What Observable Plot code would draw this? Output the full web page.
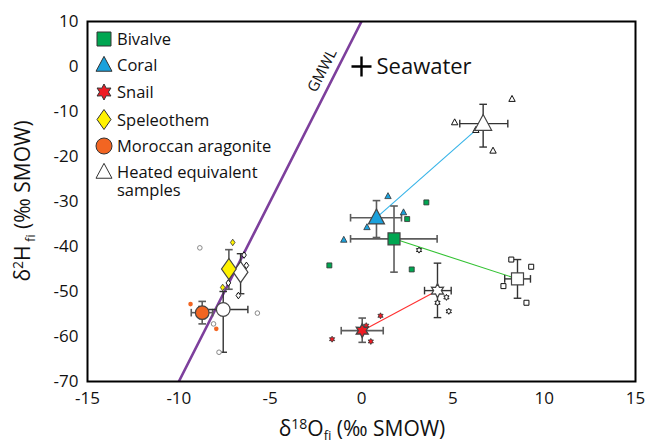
<!DOCTYPE html>
<html><head><meta charset="utf-8">
<script src="https://cdn.jsdelivr.net/npm/d3@7"></script>
<script src="https://cdn.jsdelivr.net/npm/@observablehq/plot@0.6"></script>
<style>body{margin:0;background:#fff;font-family:"Open Sans",sans-serif}</style>
</head><body><div id="chart"></div>
<script>
// ---------- data ----------
const groups = ["Bivalve", "Coral", "Snail", "Speleothem", "Moroccan aragonite"];
const colors = ["#00a651", "#1ba1dc", "#ee1c24", "#fff200", "#f26522"];
const lineColors = ["#33c233", "#35b3e8", "#ff3030", null, null];

// original sample means with error-bar ends
const meanX   = [1.78, 0.82, 0.04, -7.26, -8.72];
const meanY   = [-38.3, -33.6, -58.7, -45.0, -54.7];
const meanXLo = [-0.6, -0.6, -1.11, null, -9.32];
const meanXHi = [4.14, 2.19, 1.19, null, -8.15];
const meanYLo = [-45.7, -38.0, -61.3, -49.5, -57.2];
const meanYHi = [-31.0, -29.8, -55.9, -40.7, -52.2];

// heated equivalent means
const heatX   = [8.54, 6.66, 4.16, -6.62, -7.57];
const heatY   = [-47.2, -12.7, -49.8, -45.7, -54.0];
const heatXLo = [7.84, 5.38, 3.45, null, -8.9];
const heatXHi = [9.25, 8.01, 4.91, null, -6.22];
const heatYLo = [-51.5, -17.9, -55.8, -50.5, -63.5];
const heatYHi = [-42.9, -8.4, -43.7, -41.6, -50.0];

// individual samples
const sampleGroup = [0,0,0,0, 1,1,1,1, 2,2,2,2, 3,3, 4,4];
const sampleX = [3.55, 2.5, -1.76, 2.75,  1.45, 2.3, 0.3, -0.97,  1.04, -1.61, 0.51, 0.26,  -7.05, -7.6,  -9.36, -7.95];
const sampleY = [-30.2, -33.9, -44.2, -45.1,  -28.8, -32.4, -35.7, -38.5,  -55.4, -60.6, -61.1, -57.6,  -39.1, -49.1,  -52.8, -58.3];

// individual heated samples
const heatSampleGroup = [0,0,0,0, 1,1,1,1, 2,2,2,2, 3,3,3,3, 4,4,4,4];
const heatSampleX = [8.2, 9.29, 7.77, 9.03,  8.24, 5.1, 6.26, 7.2,  3.15, 4.65, 4.16, 4.78,  -6.43, -6.3, -7.29, -6.74,  -8.85, -5.7, -8.1, -7.8];
const heatSampleY = [-42.9, -44.5, -48.8, -52.5,  -7.2, -12.4, -14.1, -18.7,  -40.8, -51.3, -52.5, -54.4,  -41.9, -44.2, -48.1, -50.9,  -40.3, -54.8, -57.2, -63.5];

const gmwlX = [-10, 0];
const gmwlY = [-70, 10];
const seawaterX = [0], seawaterY = [0], seawaterLabel = ["Seawater"];
const xTicks = [-15, -10, -5, 0, 5, 10, 15];
const yTicks = [-70, -60, -50, -40, -30, -20, -10, 0, 10];

// ---------- symbols ----------
const sym = fn => ({draw(ctx, size) { const r = Math.sqrt(size / Math.PI); fn(ctx, r); }});
const SQUARE = sym((c, r) => { c.rect(-r, -r, 2 * r, 2 * r); });
const TRIANGLE = sym((c, r) => { c.moveTo(0, -r * 1.08); c.lineTo(r, r * 0.78); c.lineTo(-r, r * 0.78); c.closePath(); });
const STAR6 = sym((c, r) => {
  for (let i = 0; i < 12; i++) {
    const a = -Math.PI / 2 + i * Math.PI / 6, rr = i % 2 ? r * 0.55 : r;
    const px = rr * Math.cos(a), py = rr * Math.sin(a);
    i ? c.lineTo(px, py) : c.moveTo(px, py);
  }
  c.closePath();
});
const DIAMOND = sym((c, r) => { c.moveTo(0, -r); c.lineTo(r * 0.7, 0); c.lineTo(0, r); c.lineTo(-r * 0.7, 0); c.closePath(); });
const CIRCLE = sym((c, r) => { c.moveTo(r, 0); c.arc(0, 0, r, 0, 2 * Math.PI); });
const HCAP = sym((c, r) => { c.moveTo(-r, 0); c.lineTo(r, 0); });
const VCAP = sym((c, r) => { c.moveTo(0, -r); c.lineTo(0, r); });
const symbols = [SQUARE, TRIANGLE, STAR6, DIAMOND, CIRCLE];
const bigR = [6, 8, 7, 10.5, 6.8];
const heatBigR = [6, 8.5, 7, 10.5, 6.8];
const smallR = [2.5, 3.2, 3, 3.3, 2.3];

// ---------- marks ----------
const idx = groups.map((_, i) => i);
const marks = [
  Plot.line(gmwlX.map((x, i) => ({x, y: gmwlY[i]})), {x: "x", y: "y", stroke: "#7d3f9c", strokeWidth: 2.6, clip: true}),
  Plot.text([0], {x: () => -2.15, y: () => -0.9, text: () => "GMWL", rotate: -63, fontSize: 15, fill: "#111"}),
  Plot.link(idx.filter(i => lineColors[i]), {x1: i => meanX[i], y1: i => meanY[i], x2: i => heatX[i], y2: i => heatY[i], stroke: i => lineColors[i], strokeWidth: 1.1})
];

function errorBars(X, Y, XLo, XHi, YLo, YHi, color, w) {
  const hi = idx.filter(i => XLo[i] != null);
  const capH = [], capV = [];
  hi.forEach(i => { capV.push({x: XLo[i], y: Y[i]}, {x: XHi[i], y: Y[i]}); });
  idx.forEach(i => { capH.push({x: X[i], y: YLo[i]}, {x: X[i], y: YHi[i]}); });
  return [
    Plot.link(hi, {x1: i => XLo[i], x2: i => XHi[i], y1: i => Y[i], y2: i => Y[i], stroke: color, strokeWidth: w}),
    Plot.link(idx, {x1: i => X[i], x2: i => X[i], y1: i => YLo[i], y2: i => YHi[i], stroke: color, strokeWidth: w}),
    Plot.dot(capV, {x: "x", y: "y", symbol: VCAP, r: 3.8, stroke: color, strokeWidth: w, fill: "none"}),
    Plot.dot(capH, {x: "x", y: "y", symbol: HCAP, r: 3.8, stroke: color, strokeWidth: w, fill: "none"})
  ];
}
marks.push(...errorBars(meanX, meanY, meanXLo, meanXHi, meanYLo, meanYHi, "#5c5c5c", 1.6));
marks.push(...errorBars(heatX, heatY, heatXLo, heatXHi, heatYLo, heatYHi, "#333", 1.4));

// small samples
idx.forEach(g => {
  const s = sampleX.map((x, i) => ({x, y: sampleY[i], g: sampleGroup[i]})).filter(d => d.g === g);
  const hs = heatSampleX.map((x, i) => ({x, y: heatSampleY[i], g: heatSampleGroup[i]})).filter(d => d.g === g);
  marks.push(Plot.dot(hs, {x: "x", y: "y", symbol: symbols[g], r: smallR[g], fill: "#fff", stroke: g === 4 ? "#888" : "#111", strokeWidth: 1}));
  marks.push(Plot.dot(s, {x: "x", y: "y", symbol: symbols[g], r: smallR[g], fill: colors[g], stroke: g === 4 ? "none" : "#333", strokeWidth: 0.8}));
});
// big means
idx.forEach(g => {
  marks.push(Plot.dot([g], {x: i => heatX[i], y: i => heatY[i], symbol: symbols[g], r: heatBigR[g], fill: "#fff", stroke: "#444", strokeWidth: 1.2}));
  marks.push(Plot.dot([g], {x: i => meanX[i], y: i => meanY[i], symbol: symbols[g], r: bigR[g], fill: colors[g], stroke: "#444", strokeWidth: 1.2}));
});
// seawater
marks.push(Plot.dot(seawaterX.map((x, i) => ({x, y: seawaterY[i]})), {x: "x", y: "y", symbol: "plus", r: 6.5, stroke: "#000", strokeWidth: 2.4}));
marks.push(Plot.text(seawaterLabel.map((t, i) => ({t, x: seawaterX[i], y: seawaterY[i]})), {x: "x", y: "y", text: "t", dx: 15, textAnchor: "start", fontSize: 22, fill: "#111"}));

marks.push(Plot.frame({stroke: "#000", strokeWidth: 2}));
marks.push(Plot.axisX({ticks: xTicks, tickSize: 0, tickPadding: 10, tickFormat: d => String(d), label: null, fontSize: 17}));
marks.push(Plot.axisY({ticks: yTicks, tickSize: 0, tickPadding: 9, tickFormat: d => String(d), label: null, fontSize: 17}));

const chart = Plot.plot({
  width: 651, height: 444,
  marginLeft: 87, marginRight: 16, marginTop: 21, marginBottom: 63,
  x: {domain: [-15, 15]},
  y: {domain: [-70, 10]},
  style: {fontFamily: "Open Sans, sans-serif", color: "#111", background: "#fff"},
  marks
});
document.getElementById("chart").appendChild(chart);

// ---------- axis titles & legend ----------
const svg = d3.select(chart);
const xt = svg.append("text").attr("x", 362).attr("y", 436).attr("text-anchor", "middle")
  .attr("font-size", 21).attr("fill", "#111").attr("font-family", "Open Sans, sans-serif");
xt.append("tspan").text("δ");
xt.append("tspan").attr("font-size", 14).attr("dy", -7).text("18");
xt.append("tspan").attr("dy", 7).text("O");
xt.append("tspan").attr("font-size", 13).attr("dy", 4).text("fi");
xt.append("tspan").attr("dy", -4).text(" (‰ SMOW)");

const yt = svg.append("text").attr("transform", "translate(30,201) rotate(-90)").attr("text-anchor", "middle")
  .attr("font-size", 21).attr("fill", "#111").attr("font-family", "Open Sans, sans-serif");
yt.append("tspan").text("δ");
yt.append("tspan").attr("font-size", 14).attr("dy", -7).text("2");
yt.append("tspan").attr("dy", 7).text("H");
yt.append("tspan").attr("font-size", 13).attr("dy", 5).text(" fi");
yt.append("tspan").attr("dy", -5).text(" (‰ SMOW)");

const legendLabels = [...groups, ["Heated equivalent", "samples"]];
const legendRowY = [39, 65, 92, 119.5, 146, 172];
const legendR = [7, 8, 8, 10, 8, 8];
const legend = svg.append("g").attr("font-family", "Open Sans, sans-serif").attr("font-size", 16.5)
  .attr("fill", "#111").attr("text-anchor", "start");
legendLabels.forEach((lab, i) => {
  const s = i < 5 ? symbols[i] : TRIANGLE;
  legend.append("path").attr("transform", `translate(104,${legendRowY[i]})`)
    .attr("d", d3.symbol(s, Math.PI * legendR[i] * legendR[i])())
    .attr("fill", i < 5 ? colors[i] : "#fff").attr("stroke", "#333").attr("stroke-width", 1);
  const t = legend.append("text").attr("x", 117).attr("y", legendRowY[i] + 6).attr("text-anchor", "start");
  const lines = Array.isArray(lab) ? lab : [lab];
  lines.forEach((ln, j) => t.append("tspan").attr("x", 117).attr("dy", j ? 18 : 0).text(ln));
});
</script></body></html>
